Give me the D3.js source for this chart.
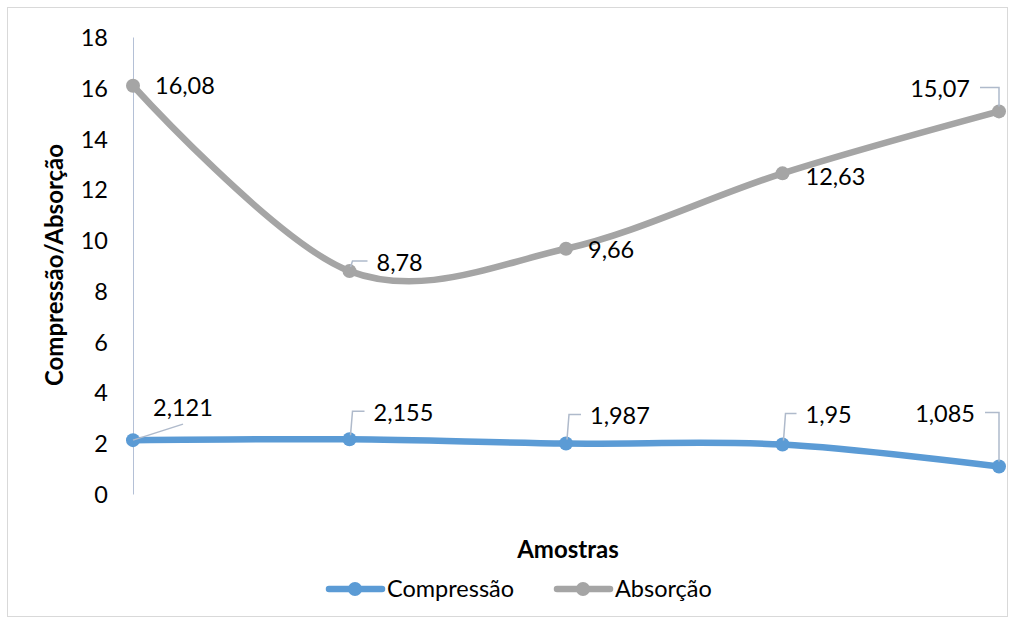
<!DOCTYPE html>
<html>
<head>
<meta charset="utf-8">
<script src="https://cdn.jsdelivr.net/npm/d3@7"></script>
<style>
  body { margin: 0; background: #fff; }
  svg text { font-family: Lato, "Open Sans", sans-serif; fill: #000; }
</style>
</head>
<body>
<svg id="chart" width="1015" height="624"></svg>
<script>
// data
var amostras = ["A1", "A2", "A3", "A4", "A5"];
var compressao = [2.121, 2.155, 1.987, 1.95, 1.085];
var absorcao = [16.08, 8.78, 9.66, 12.63, 15.07];
var yTicks = [0, 2, 4, 6, 8, 10, 12, 14, 16, 18];

// where Excel put each data label, relative to its point (dx, dy, anchor, leader)
var labelsComp = [
    {dx: 20, dy: -33, anchor: "start", leader: "diag"},
    {dx: 24, dy: -27, anchor: "start", leader: "hook"},
    {dx: 24, dy: -28, anchor: "start", leader: "hook"},
    {dx: 23, dy: -30, anchor: "start", leader: "hook"},
    {dx: -24, dy: -53, anchor: "end", leader: "hookR"}
];
var labelsAbs = [
    {dx: 22, dy: 0, anchor: "start", leader: null},
    {dx: 27, dy: -9, anchor: "start", leader: "hook"},
    {dx: 22, dy: 1, anchor: "start", leader: null},
    {dx: 23, dy: 3, anchor: "start", leader: null},
    {dx: -29, dy: -23, anchor: "end", leader: "hookR"}
];

var svg = d3.select("#chart");

// chart area border
svg.append("rect")
    .attr("x", 7.5).attr("y", 7.5)
    .attr("width", 1000).attr("height", 609)
    .attr("fill", "#fff")
    .attr("stroke", "#D9D9D9");

var x = d3.scalePoint().domain(amostras).range([133, 999]);
var y = d3.scaleLinear().domain([0, 18]).range([494, 37]);

// y axis
var yAxis = svg.append("g").attr("transform", "translate(133,0)")
    .call(d3.axisLeft(y).tickValues(yTicks).tickSize(0).tickPadding(25));
yAxis.select(".domain").attr("stroke", "#B4C0D6").attr("stroke-width", 1);
yAxis.selectAll("text")
    .style("font-size", "23.5px")
    .attr("dy", "0.36em");

// axis titles
svg.append("text")
    .attr("transform", "translate(63,265) rotate(-90)")
    .attr("text-anchor", "middle")
    .style("font-size", "24px")
    .style("font-weight", "bold")
    .text("Compressão/Absorção");

svg.append("text")
    .attr("x", 568).attr("y", 558)
    .attr("text-anchor", "middle")
    .style("font-size", "24px")
    .style("font-weight", "bold")
    .text("Amostras");

var line = d3.line()
    .x(function(d, i) { return x(amostras[i]); })
    .y(function(d) { return y(d); })
    .curve(d3.curveCatmullRom.alpha(0));

var series = [
    {name: "Compressão", values: compressao, color: "#5B9BD5", labels: labelsComp},
    {name: "Absorção", values: absorcao, color: "#A5A5A5", labels: labelsAbs}
];

function fmt(v) {
    return String(v).replace(".", ",");
}

series.forEach(function(s) {
    svg.append("path")
        .attr("d", line(s.values))
        .attr("fill", "none")
        .attr("stroke", s.color)
        .attr("stroke-width", 6.5)
        .attr("stroke-linecap", "round")
        .attr("stroke-linejoin", "round");

    svg.selectAll(null)
        .data(s.values)
        .enter()
        .append("circle")
        .attr("cx", function(d, i) { return x(amostras[i]); })
        .attr("cy", function(d) { return y(d); })
        .attr("r", 7)
        .attr("fill", s.color);

    // data labels with leader lines
    s.values.forEach(function(v, i) {
        var px = x(amostras[i]), py = y(v);
        var lb = s.labels[i];
        var tx = px + lb.dx, ty = py + lb.dy;
        var lead = null;
        if (lb.leader === "diag") {
            lead = "M" + px + "," + py + "L" + (tx + 30) + "," + (ty + 17);
        } else if (lb.leader === "hook") {
            lead = "M" + (px + 1) + "," + (py - 4) + "L" + (px + 3) + "," + (ty - 1) + "L" + (tx - 9) + "," + (ty - 1);
        } else if (lb.leader === "hookR") {
            lead = "M" + (tx + 10) + "," + (ty - 1) + "L" + (px) + "," + (ty - 1) + "L" + px + "," + (py - 5);
        }
        if (lead) {
            svg.append("path")
                .attr("d", lead)
                .attr("fill", "none")
                .attr("stroke", "#AFBACB")
                .attr("stroke-width", 1.5);
        }
        svg.append("text")
            .attr("x", tx).attr("y", ty)
            .attr("dy", "0.36em")
            .attr("text-anchor", lb.anchor)
            .style("font-size", "23.5px")
            .text(fmt(v));
    });
});

// legend
var legend = svg.append("g").attr("transform", "translate(0,589)");
var legendX = [327, 555];
series.forEach(function(s, i) {
    var g = legend.append("g").attr("transform", "translate(" + legendX[i] + ",0)");
    g.append("line")
        .attr("x1", 2).attr("x2", 55)
        .attr("stroke", s.color)
        .attr("stroke-width", 6.5)
        .attr("stroke-linecap", "round");
    g.append("circle").attr("cx", 28).attr("r", 7).attr("fill", s.color);
    g.append("text")
        .attr("x", 60).attr("dy", "0.36em")
        .style("font-size", "23.5px")
        .text(s.name);
});
</script>
</body>
</html>
